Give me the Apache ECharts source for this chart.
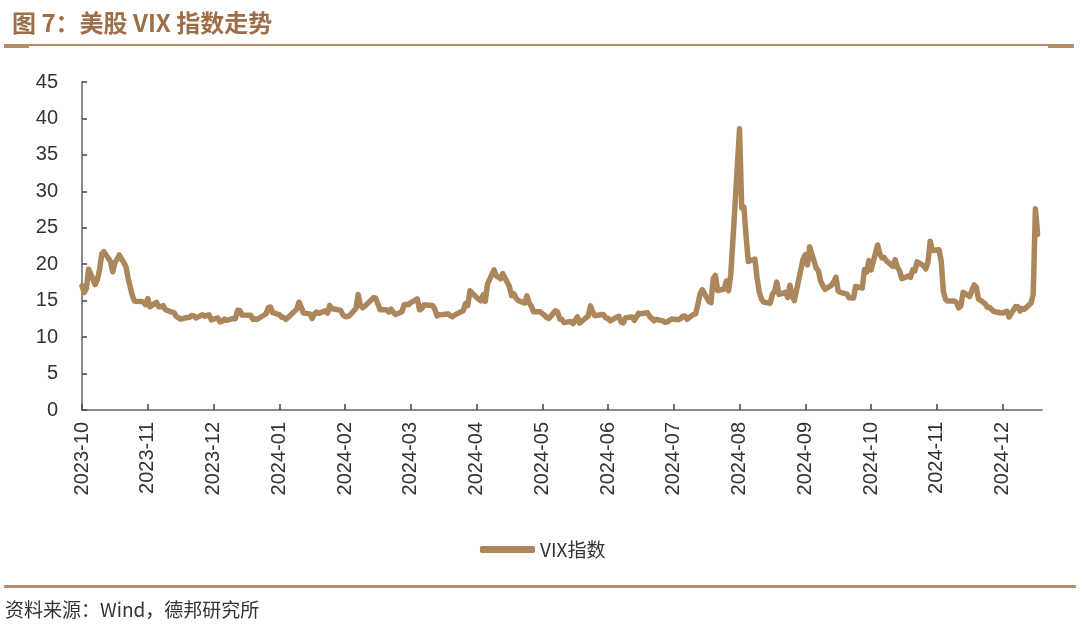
<!DOCTYPE html>
<html>
<head>
<meta charset="utf-8">
<title>美股 VIX 指数走势</title>
<script src="https://cdn.jsdelivr.net/npm/echarts@6.0.0/dist/echarts.min.js"></script>
<style>
  html, body { margin: 0; padding: 0; background: #fff; }
  #chart { width: 1080px; height: 627px; }
</style>
</head>
<body>
<div id="chart"></div>
<script>
// trading days shown in the chart
const dates = [
  '2023-10-10','2023-10-11','2023-10-12','2023-10-13','2023-10-16','2023-10-17','2023-10-18','2023-10-19','2023-10-20','2023-10-23','2023-10-24','2023-10-25','2023-10-26','2023-10-27','2023-10-30','2023-10-31',
  '2023-11-01','2023-11-02','2023-11-03','2023-11-06','2023-11-07','2023-11-08','2023-11-09','2023-11-10','2023-11-13','2023-11-14','2023-11-15','2023-11-16','2023-11-17','2023-11-20','2023-11-21','2023-11-22','2023-11-24','2023-11-27','2023-11-28','2023-11-29','2023-11-30',
  '2023-12-01','2023-12-04','2023-12-05','2023-12-06','2023-12-07','2023-12-08','2023-12-11','2023-12-12','2023-12-13','2023-12-14','2023-12-15','2023-12-18','2023-12-19','2023-12-20','2023-12-21','2023-12-22','2023-12-26','2023-12-27','2023-12-28','2023-12-29',
  '2024-01-02','2024-01-03','2024-01-04','2024-01-05','2024-01-08','2024-01-09','2024-01-10','2024-01-11','2024-01-12','2024-01-16','2024-01-17','2024-01-18','2024-01-19','2024-01-22','2024-01-23','2024-01-24','2024-01-25','2024-01-26','2024-01-29','2024-01-30','2024-01-31',
  '2024-02-01','2024-02-02','2024-02-05','2024-02-06','2024-02-07','2024-02-08','2024-02-09','2024-02-12','2024-02-13','2024-02-14','2024-02-15','2024-02-16','2024-02-20','2024-02-21','2024-02-22','2024-02-23','2024-02-26','2024-02-27','2024-02-28','2024-02-29',
  '2024-03-01','2024-03-04','2024-03-05','2024-03-06','2024-03-07','2024-03-08','2024-03-11','2024-03-12','2024-03-13','2024-03-14','2024-03-15','2024-03-18','2024-03-19','2024-03-20','2024-03-21','2024-03-22','2024-03-25','2024-03-26','2024-03-27','2024-03-28',
  '2024-04-01','2024-04-02','2024-04-03','2024-04-04','2024-04-05','2024-04-08','2024-04-09','2024-04-10','2024-04-11','2024-04-12','2024-04-15','2024-04-16','2024-04-17','2024-04-18','2024-04-19','2024-04-22','2024-04-23','2024-04-24','2024-04-25','2024-04-26','2024-04-29','2024-04-30',
  '2024-05-01','2024-05-02','2024-05-03','2024-05-06','2024-05-07','2024-05-08','2024-05-09','2024-05-10','2024-05-13','2024-05-14','2024-05-15','2024-05-16','2024-05-17','2024-05-20','2024-05-21','2024-05-22','2024-05-23','2024-05-24','2024-05-28','2024-05-29','2024-05-30','2024-05-31',
  '2024-06-03','2024-06-04','2024-06-05','2024-06-06','2024-06-07','2024-06-10','2024-06-11','2024-06-12','2024-06-13','2024-06-14','2024-06-17','2024-06-18','2024-06-20','2024-06-21','2024-06-24','2024-06-25','2024-06-26','2024-06-27','2024-06-28',
  '2024-07-01','2024-07-02','2024-07-03','2024-07-05','2024-07-08','2024-07-09','2024-07-10','2024-07-11','2024-07-12','2024-07-15','2024-07-16','2024-07-17','2024-07-18','2024-07-19','2024-07-22','2024-07-23','2024-07-24','2024-07-25','2024-07-26','2024-07-29','2024-07-30','2024-07-31',
  '2024-08-01','2024-08-02','2024-08-05','2024-08-06','2024-08-07','2024-08-08','2024-08-09','2024-08-12','2024-08-13','2024-08-14','2024-08-15','2024-08-16','2024-08-19','2024-08-20','2024-08-21','2024-08-22','2024-08-23','2024-08-26','2024-08-27','2024-08-28','2024-08-29','2024-08-30',
  '2024-09-03','2024-09-04','2024-09-05','2024-09-06','2024-09-09','2024-09-10','2024-09-11','2024-09-12','2024-09-13','2024-09-16','2024-09-17','2024-09-18','2024-09-19','2024-09-20','2024-09-23','2024-09-24','2024-09-25','2024-09-26','2024-09-27','2024-09-30',
  '2024-10-01','2024-10-02','2024-10-03','2024-10-04','2024-10-07','2024-10-08','2024-10-09','2024-10-10','2024-10-11','2024-10-14','2024-10-15','2024-10-16','2024-10-17','2024-10-18','2024-10-21','2024-10-22','2024-10-23','2024-10-24','2024-10-25','2024-10-28','2024-10-29','2024-10-30','2024-10-31',
  '2024-11-01','2024-11-04','2024-11-05','2024-11-06','2024-11-07','2024-11-08','2024-11-11','2024-11-12','2024-11-13','2024-11-14','2024-11-15','2024-11-18','2024-11-19','2024-11-20','2024-11-21','2024-11-22','2024-11-25','2024-11-26','2024-11-27','2024-11-29',
  '2024-12-02','2024-12-03','2024-12-04','2024-12-05','2024-12-06','2024-12-09','2024-12-10','2024-12-11','2024-12-12','2024-12-13','2024-12-16','2024-12-17','2024-12-18','2024-12-19'
];

// VIX close, one value per date above
const vix = [
  17.03,16.09,16.69,19.32,17.21,17.88,19.22,21.40,21.71,20.37,18.97,20.19,20.68,21.27,19.75,18.14,
  16.87,15.66,14.91,14.89,14.81,14.45,15.29,14.17,14.76,14.16,14.18,14.32,13.80,13.41,13.35,12.85,12.46,12.69,12.69,12.98,12.92,
  12.63,13.08,12.85,12.97,13.06,12.35,12.63,12.07,12.19,12.48,12.28,12.56,12.53,13.67,13.65,13.03,12.99,12.43,12.47,12.45,
  13.20,14.04,14.13,13.35,13.08,12.76,12.69,12.44,12.70,13.84,14.79,14.13,13.30,13.19,12.55,13.14,13.45,13.26,13.60,13.31,14.35,
  13.88,13.85,13.67,13.06,12.83,12.79,12.93,13.93,15.85,14.38,14.01,14.24,15.42,15.34,14.54,13.75,13.74,13.43,13.84,13.40,
  13.11,13.49,14.46,14.50,14.44,14.74,15.23,13.75,13.92,14.40,14.41,14.33,13.82,12.92,13.06,13.06,13.19,12.94,12.78,13.01,
  13.65,14.61,14.33,16.35,16.03,15.19,14.98,15.80,14.91,17.31,19.23,18.40,18.21,18.00,18.71,16.94,15.69,15.97,15.37,15.03,14.67,15.65,
  14.68,14.26,13.49,13.49,13.23,13.00,12.69,12.55,13.60,13.42,12.45,12.42,11.99,12.15,11.86,12.29,12.77,11.93,12.92,14.28,13.49,12.92,
  13.11,13.06,12.63,12.58,12.22,12.74,12.85,12.04,11.94,12.66,12.75,12.30,13.28,13.20,13.33,12.84,12.55,12.24,12.44,
  12.22,12.03,12.09,12.48,12.37,12.51,12.85,12.91,12.46,13.12,13.19,14.48,15.93,16.52,14.91,14.72,18.04,18.46,16.39,16.60,17.69,16.36,
  18.59,23.39,38.57,27.71,27.85,23.79,20.37,20.71,18.12,16.19,15.23,14.80,14.65,15.88,16.27,17.55,15.86,16.15,15.43,17.11,15.65,15.00,
  20.72,21.32,19.90,22.38,19.45,19.08,17.69,17.07,16.56,17.14,17.61,18.23,16.33,16.15,15.89,15.39,15.41,15.37,16.96,16.73,
  19.26,18.90,20.49,19.21,22.64,21.42,20.86,20.93,20.46,19.70,20.64,19.58,19.11,18.03,18.37,18.20,19.24,19.08,20.33,19.80,19.34,20.35,23.16,
  21.88,21.98,20.49,16.27,15.20,14.94,14.97,14.71,14.02,14.31,16.14,15.58,16.35,17.16,16.87,15.24,14.60,14.10,14.10,13.51,
  13.34,13.30,13.45,13.54,12.77,14.19,14.18,13.58,13.92,13.81,14.69,15.87,27.62,24.09
];

// x-axis ticks sit every 30 days from the first date
const tickDates = [
  '2023-10-10','2023-11-09','2023-12-09','2024-01-08','2024-02-07','2024-03-08','2024-04-07','2024-05-07',
  '2024-06-06','2024-07-06','2024-08-05','2024-09-04','2024-10-04','2024-11-03','2024-12-03'
];
const xMin = '2023-10-10';
const xMax = '2024-12-21';

const brown = '#ad875c';
const rule = '#b48d6a';
const labelFont = 'Liberation Sans, Arial, sans-serif';

// 'YYYY-MM-DD' -> timestamp (UTC midnight)
function ts(s) {
  const p = s.split('-').map(Number);
  return Date.UTC(p[0], p[1] - 1, p[2]);
}

const chart = echarts.init(document.getElementById('chart'));

chart.setOption({
  animation: false,
  backgroundColor: '#fff',
  title: {
    text: '图 7：美股 VIX 指数走势',
    left: 7,
    top: 6,
    textStyle: {
      fontFamily: 'Noto Sans CJK SC',
      fontSize: 24,
      fontWeight: 'bold',
      color: '#9e6e48'
    }
  },
  legend: {
    left: 475,
    top: 535,
    icon: 'roundRect',
    itemWidth: 55,
    itemHeight: 7,
    itemGap: 4,
    textStyle: { fontFamily: 'Noto Sans CJK SC', fontSize: 19, color: '#333' },
    data: ['VIX指数']
  },
  grid: { left: 82, right: 38, top: 82, bottom: 217 },
  xAxis: {
    type: 'value',
    min: ts(xMin),
    max: ts(xMax),
    scale: true,
    axisLine: { onZero: false, lineStyle: { color: '#666', width: 1.5 } },
    axisTick: { inside: true, length: 6, lineStyle: { color: '#444', width: 1.5 }, customValues: tickDates.map(ts) },
    splitLine: { show: false },
    axisLabel: {
      customValues: tickDates.map(ts),
      rotate: 90,
      margin: 12,
      fontFamily: labelFont,
      fontSize: 20,
      color: '#333',
      formatter: v => {
        const d = new Date(v);
        return d.getUTCFullYear() + '-' + String(d.getUTCMonth() + 1).padStart(2, '0');
      }
    }
  },
  yAxis: {
    type: 'value',
    min: 0,
    max: 45,
    interval: 5,
    axisLine: { show: true, lineStyle: { color: '#666', width: 1.5 } },
    axisTick: { show: true, inside: true, length: 5, lineStyle: { color: '#444', width: 1.5 } },
    splitLine: { show: false },
    axisLabel: { margin: 24, fontFamily: labelFont, fontSize: 20, color: '#333' }
  },
  series: [{
    name: 'VIX指数',
    type: 'line',
    data: dates.map((d, i) => [ts(d), vix[i]]),
    showSymbol: false,
    symbol: 'none',
    lineStyle: { color: brown, width: 5.5, join: 'round', cap: 'round' },
    itemStyle: { color: brown },
    emphasis: { disabled: true }
  }],
  graphic: [
    { type: 'rect', shape: { x: 4, y: 44, width: 1070, height: 2 }, style: { fill: rule } },
    { type: 'rect', shape: { x: 4, y: 44, width: 25, height: 4 }, style: { fill: rule } },
    { type: 'rect', shape: { x: 1048, y: 44, width: 26, height: 4 }, style: { fill: rule } },
    { type: 'rect', shape: { x: 4, y: 585, width: 1072, height: 3 }, style: { fill: rule } },
    {
      type: 'text',
      left: 5,
      top: 600,
      style: {
        text: '资料来源：Wind，德邦研究所',
        fontFamily: 'Noto Sans CJK SC',
        fontSize: 19,
        fill: '#333'
      }
    }
  ]
});
</script>
</body>
</html>
